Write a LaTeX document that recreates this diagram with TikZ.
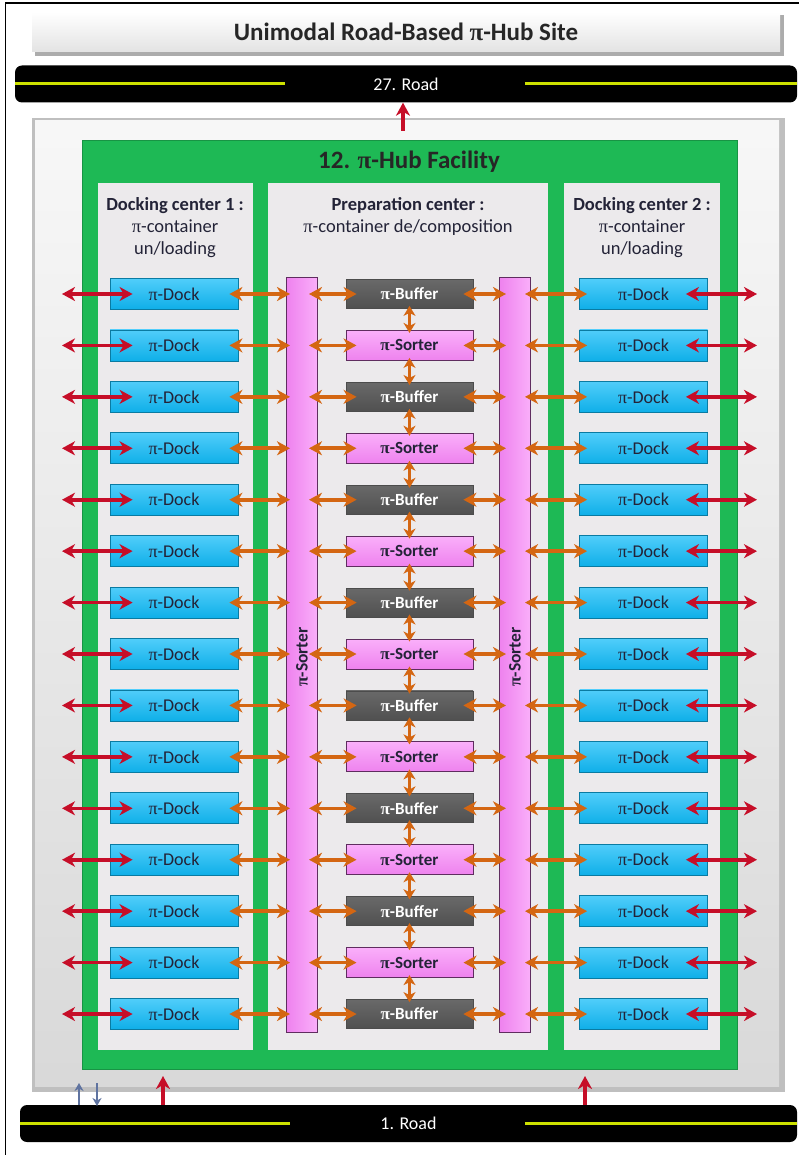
\documentclass[tikz,border=0pt]{standalone}
\usepackage{fontspec}
\setmainfont{Carlito}
\newfontfamily\pifont{Liberation Serif}
\newcommand{\pisym}{{\pifont π}}
\usetikzlibrary{arrows.meta,calc}
\definecolor{roadyellow}{RGB}{205,225,0}
\definecolor{hubgreen}{RGB}{30,185,85}
\definecolor{dockblue}{RGB}{15,175,232}
\definecolor{docklight}{RGB}{80,205,250}
\definecolor{sortpink}{RGB}{238,130,238}
\definecolor{sortlight}{RGB}{250,175,250}
\definecolor{sortedge}{RGB}{95,45,95}
\definecolor{bufgray}{RGB}{80,80,80}
\definecolor{buflight}{RGB}{105,105,105}
\definecolor{arrorange}{RGB}{212,102,18}
\definecolor{arrred}{RGB}{198,14,40}
\definecolor{arrblue}{RGB}{95,115,160}
\definecolor{paneltext}{RGB}{35,35,55}
\definecolor{centerfill}{RGB}{236,234,236}
\tikzset{
  tip/.tip={Stealth[length=13pt,width=14pt,inset=4pt]},
  oarrow/.style={draw=arrorange,line width=3.6pt,{tip}-{tip}},
  rarrow/.style={draw=arrred,line width=3.6pt,{tip}-{tip}},
  uparrow/.style={draw=arrred,line width=3.2pt,-{tip}},
  barrow/.style={draw=arrblue,line width=2.6pt,-{Stealth[length=8pt,width=9pt,inset=2.5pt]}},
  roadbox/.style={fill=black,rounded corners=7pt,minimum height=37pt,inner sep=0pt,text=white,font=\fontsize{18}{20}\selectfont},
  panel/.style={fill=centerfill,inner sep=0pt,minimum height=867pt},
  paneltitle/.style={align=center,text=paneltext,font=\fontsize{18.5}{22}\selectfont,anchor=north,inner sep=0pt},
  dockbox/.style={top color=docklight,bottom color=dockblue,draw=dockblue!70!black,line width=0.8pt,minimum width=128pt,minimum height=31pt,inner sep=0pt,text=paneltext,font=\fontsize{18}{20}\selectfont},
  bufbox/.style={top color=buflight,bottom color=bufgray,draw=black!70,line width=0.8pt,minimum width=127pt,minimum height=29pt,inner sep=0pt,text=white,font=\bfseries\fontsize{17}{20}\selectfont},
  sortbox/.style={top color=sortlight,bottom color=sortpink,draw=sortedge,line width=1pt,minimum width=127pt,minimum height=30pt,inner sep=0pt,text=paneltext,font=\bfseries\fontsize{17}{20}\selectfont},
  vsort/.style={left color=sortpink,right color=sortlight,draw=sortedge,line width=1pt,minimum width=31pt,minimum height=754pt,inner sep=0pt},
}
\begin{document}
\begin{tikzpicture}[x=1pt,y=-1pt]
\useasboundingbox (0,0) rectangle (799,1155);
\fill[white] (0,0) rectangle (799,1155);
\draw[line width=1.5pt] (5.5,1155) -- (5.5,3) -- (799,3);

% title bar
\fill[gray!65] (35,15) rectangle (784,56);
\node[top color=white,bottom color=gray!22,minimum width=748pt,minimum height=40pt,inner sep=0pt,
  font=\bfseries\fontsize{25}{28}\selectfont,text=black!85] (title) at (406,32) {Unimodal Road-Based \pisym-Hub Site};

% top road
\node[roadbox,minimum width=782pt] (road27) at (406,84) {27. Road};
\draw[roadyellow,line width=3pt] (road27.west) -- ++(270,0);
\draw[roadyellow,line width=3pt] (road27.east) -- ++(-272,0);

% site box
\fill[gray!50] (32,118) rectangle (785,1092);
\node[top color=gray!6,bottom color=gray!30,minimum width=744pt,minimum height=965pt,inner sep=0pt] (site) at (407,603.5) {};

% hub facility
\node[fill=hubgreen,draw=hubgreen!80!black,line width=0.8pt,minimum width=655pt,minimum height=929pt,inner sep=0pt] (hub) at (409.5,604.5) {};
\node[font=\bfseries\fontsize{25}{28}\selectfont,text=black!85,inner sep=0pt] (hubtitle) at (409,162) {12. \pisym-Hub Facility};

% panels
\node[panel,minimum width=155pt] (dc1) at (175.5,616.5) {};
\node[panel,minimum width=280pt] (prep) at (408,616.5) {};
\node[panel,minimum width=156pt] (dc2) at (642,616.5) {};
\node[paneltitle] (dc1t) at (175,197) {\textbf{Docking center 1 :}\\\pisym-container\\un/loading};
\node[paneltitle] (prept) at (408,197) {\textbf{Preparation center :}\\\pisym-container de/composition};
\node[paneltitle] (dc2t) at (642,197) {\textbf{Docking center 2 :}\\\pisym-container\\un/loading};

% vertical sorters
\node[vsort] (sl) at (302,655) {};
\node[vsort] (sr) at (515,655) {};
\node[rotate=90,font=\bfseries\fontsize{17.5}{20}\selectfont,text=paneltext,inner sep=0pt] (slt) at (302,657) {\pisym-Sorter};
\node[rotate=90,font=\bfseries\fontsize{17.5}{20}\selectfont,text=paneltext,inner sep=0pt] (srt) at (515,657) {\pisym-Sorter};

% rows
\foreach \i in {0,...,14}{
  \pgfmathsetmacro{\yy}{294+51.43*\i}
  \node[dockbox] (dl\i) at (174,\yy) {\pisym-Dock};
  \node[dockbox] (dr\i) at (643.5,\yy) {\pisym-Dock};
  \pgfmathparse{int(mod(\i,2))}
  \ifnum\pgfmathresult=0
    \node[bufbox] (c\i) at (409.5,\yy) {\pisym-Buffer};
  \else
    \node[sortbox] (c\i) at (409.5,\yy) {\pisym-Sorter};
  \fi
  \coordinate (ll\i) at (62,\yy);
  \coordinate (rr\i) at (757,\yy);
  \draw[rarrow] (ll\i) -- ([xshift=23pt]dl\i.west);
  \draw[rarrow] ([xshift=-22pt]dr\i.east) -- (rr\i);
  \draw[oarrow] ([xshift=-9pt]dl\i.east) -- ([xshift=4pt]sl.west |- dl\i.east);
  \draw[oarrow] ([xshift=-9pt]sl.east |- c\i.west) -- ([xshift=11pt]c\i.west);
  \draw[oarrow] ([xshift=-10pt]c\i.east) -- ([xshift=7pt]sr.west |- c\i.east);
  \draw[oarrow] ([xshift=-6pt]sr.east |- dr\i.west) -- ([xshift=8pt]dr\i.west);
}
\foreach \i [evaluate=\i as \j using int(\i+1)] in {0,...,13}{
  \draw[oarrow,line width=3pt,{Stealth[length=10pt,width=12pt,inset=3pt]}-{Stealth[length=10pt,width=12pt,inset=3pt]}] ([yshift=3pt]c\i.south) -- ([yshift=-3pt]c\j.north);
}

% top road arrow
\coordinate (hubout) at (403,131);
\draw[uparrow] (hubout) -- (road27.south -| hubout);

% bottom road
\node[roadbox,minimum width=777pt] (road1) at (408.5,1123.5) {1. Road};
\draw[roadyellow,line width=3pt] (road1.west) -- ++(270,0);
\draw[roadyellow,line width=3pt] (road1.east) -- ++(-272,0);

\coordinate (in1) at (163,1076);
\coordinate (in2) at (585,1076);
\draw[uparrow] (road1.north -| in1) -- (in1);
\draw[uparrow] (road1.north -| in2) -- (in2);
\coordinate (bu) at (79,1083);
\coordinate (bd) at (97,1106);
\draw[barrow] (road1.north -| bu) -- (bu);
\draw[barrow] (bd |- bu) -- (bd);
\end{tikzpicture}
\end{document}
